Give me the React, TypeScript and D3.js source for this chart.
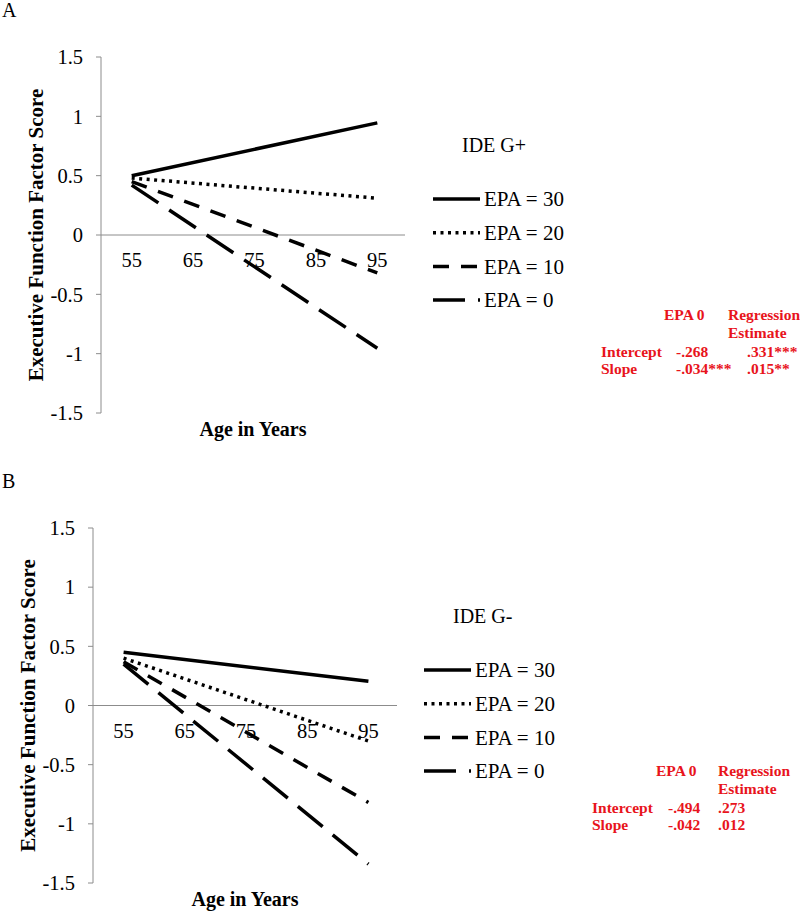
import React from 'react';
import * as d3 from 'd3';

// age categories on the x axis (Excel style category axis)
const ages = ['55', '65', '75', '85', '95'];
const yTicks = [1.5, 1, 0.5, 0, -0.5, -1, -1.5];
const seriesNames = ['EPA = 30', 'EPA = 20', 'EPA = 10', 'EPA = 0'];
const lineAges = ['55', '95'];

// panel A (IDE G+) : values at age 55 and 95
const epa30A = [0.5, 0.945];
const epa20A = [0.48, 0.31];
const epa10A = [0.45, -0.32];
const epa0A = [0.42, -0.955];

// panel B (IDE G-)
const epa30B = [0.45, 0.205];
const epa20B = [0.4, -0.3];
const epa10B = [0.37, -0.82];
const epa0B = [0.35, -1.34];

// regression tables
const tableHead = ['EPA 0', 'Regression', 'Estimate'];
const tableRowsA = [
  ['Intercept', '-.268', '.331***'],
  ['Slope', '-.034***', '.015**'],
];
const tableRowsB = [
  ['Intercept', '-.494', '.273'],
  ['Slope', '-.042', '.012'],
];

const dashes = ['none', '3 4.5', '16 12', '32 13'];
const FONT = 'Liberation Serif, Times New Roman, DejaVu Serif, serif';
const RED = '#e8141c';
const AXIS = '#8c8c8c';

type PanelProps = {
  letter: string;
  letterY: number;
  group: string;
  series: number[][];
  x0: number; x1: number; axisEnd: number; y0: number; y1: number;
  legendX: number; legendY: number;
  tableY: number; colX: number[]; valShift: number;
  rows: string[][];
};

function Panel(p: PanelProps) {
  const x = d3.scaleBand().domain(ages).range([p.x0, p.x1]);
  const y = d3.scaleLinear().domain([-1.5, 1.5]).range([p.y1, p.y0]);
  const cx = (a: string) => (x(a) as number) + x.bandwidth() / 2;
  const line = d3.line<number>()
    .x((d, i) => cx(lineAges[i]))
    .y(d => y(d));

  const lx0 = p.legendX, lx1 = p.legendX + 47;

  return (
    <g style={{ fontFamily: FONT }}>
      <text x={2} y={p.letterY} fontSize={20}>{p.letter}</text>

      {/* y axis */}
      <line x1={p.x0} x2={p.x0} y1={y(1.5)} y2={y(-1.5)} stroke={AXIS} strokeWidth={1} />
      {yTicks.map(t => (
        <g key={t}>
          <line x1={p.x0 - 5} x2={p.x0} y1={y(t)} y2={y(t)} stroke={AXIS} strokeWidth={1} />
          <text x={p.x0 - 18} y={y(t)} dy="0.35em" textAnchor="end" fontSize={20.5}>{t}</text>
        </g>
      ))}
      {/* x axis at zero */}
      <line x1={p.x0} x2={p.axisEnd} y1={y(0)} y2={y(0)} stroke={AXIS} strokeWidth={1} />
      {ages.map(a => (
        <text key={a} x={cx(a)} y={y(0) + 32} textAnchor="middle" fontSize={20.5}>{a}</text>
      ))}

      {p.series.map((s, i) => (
        <path key={i} d={line(s) || ''} fill="none" stroke="#000" strokeWidth={3.5}
          strokeDasharray={dashes[i]} />
      ))}

      <text x={(p.x0 + p.axisEnd) / 2} y={y(-1.5) + 23} textAnchor="middle" fontSize={20} fontWeight="bold">Age in Years</text>
      <text transform={`translate(${p.x0 - 58},${y(0)}) rotate(-90)`} textAnchor="middle" fontSize={21} fontWeight="bold">
        Executive Function Factor Score
      </text>

      {/* legend */}
      <text x={p.legendX + 29} y={p.legendY - 47} fontSize={20}>{p.group}</text>
      {seriesNames.map((n, i) => (
        <g key={n}>
          <line x1={lx0} x2={lx1} y1={p.legendY + i * 33.7} y2={p.legendY + i * 33.7}
            stroke="#000" strokeWidth={3.5} strokeDasharray={dashes[i]} />
          <text x={lx1 + 4} y={p.legendY + i * 33.7} dy="0.35em" fontSize={21}>{n}</text>
        </g>
      ))}

      {/* regression table */}
      <g fill={RED} fontWeight="bold" fontSize={15.5}>
        <text x={p.colX[1]} y={p.tableY}>{tableHead[0]}</text>
        <text x={p.colX[2]} y={p.tableY}>{tableHead[1]}</text>
        <text x={p.colX[2]} y={p.tableY + 18}>{tableHead[2]}</text>
        {p.rows.map((r, i) => (
          <g key={i}>
            {r.map((c, j) => (
              <text key={j} x={p.colX[j] + (j === 1 ? 12 : j === 2 ? p.valShift : 0)} y={p.tableY + 37 + i * 17}>{c}</text>
            ))}
          </g>
        ))}
      </g>
    </g>
  );
}

export default function App() {
  return (
    <div style={{ position: 'absolute', left: 0, top: 0 }}>
      <svg width={800} height={911} style={{ display: 'block', background: '#fff' }}>
        <Panel letter="A" letterY={17} group="IDE G+"
          series={[epa30A, epa20A, epa10A, epa0A]}
          x0={101} x1={408} axisEnd={405} y0={57} y1={413}
          legendX={433} legendY={199}
          tableY={320} colX={[601, 664, 728]} valShift={19} rows={tableRowsA} />
        <Panel letter="B" letterY={488} group="IDE G-"
          series={[epa30B, epa20B, epa10B, epa0B]}
          x0={93} x1={399} axisEnd={397} y0={528} y1={883}
          legendX={424} legendY={670}
          tableY={776} colX={[592, 656, 718]} valShift={0} rows={tableRowsB} />
      </svg>
    </div>
  );
}
